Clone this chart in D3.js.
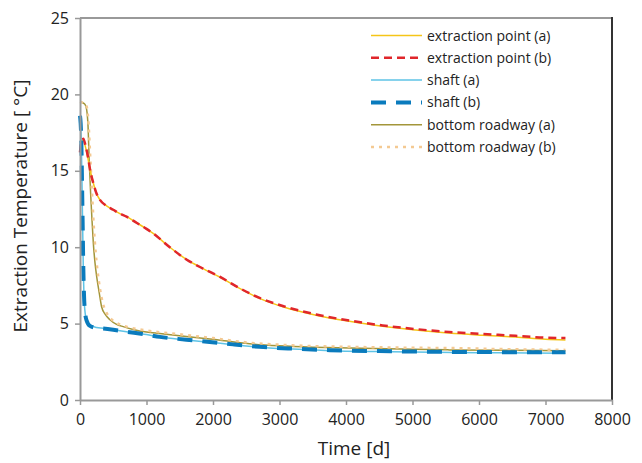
<!DOCTYPE html>
<html>
<head>
<meta charset="utf-8">
<script src="https://cdn.jsdelivr.net/npm/d3@7"></script>
<style>
  body { margin: 0; background: #fff; }
  svg text { font-family: "Open Sans", sans-serif; fill: #222; }
</style>
</head>
<body>
<div id="chart"></div>
<script>
// Data: [time in days, temperature in °C]
var extractionA = [[0,16.3],[20,16.8],[50,17.0],[80,16.6],[120,15.8],[150,15.1],[200,14.2],[250,13.5],[300,13.1],[400,12.7],[500,12.45],[600,12.2],[700,12.0],[850,11.6],[1000,11.2],[1100,10.9],[1350,10.0],[1600,9.2],[1850,8.6],[2100,8.05],[2400,7.3],[2700,6.65],[3050,6.1],[3550,5.55],[4050,5.15],[4550,4.82],[5050,4.58],[5550,4.38],[6050,4.24],[6550,4.12],[7000,3.98],[7300,3.93]];
var extractionB = [[0,16.2],[20,16.9],[50,17.1],[80,16.7],[120,15.9],[150,15.1],[200,14.2],[250,13.5],[300,13.1],[400,12.7],[500,12.45],[600,12.2],[700,12.0],[850,11.6],[1000,11.2],[1100,10.9],[1350,10.0],[1600,9.2],[1850,8.6],[2100,8.07],[2400,7.32],[2700,6.68],[3050,6.15],[3550,5.6],[4050,5.2],[4550,4.88],[5050,4.64],[5550,4.45],[6050,4.32],[6550,4.2],[7000,4.08],[7300,4.05]];
var shaftA = [[0,18.5],[10,18.0],[20,16.8],[30,14.2],[40,11.3],[50,8.5],[60,6.8],[80,5.6],[100,5.2],[150,4.9],[250,4.75],[350,4.7],[500,4.6],[700,4.47],[1000,4.28],[1200,4.12],[1600,3.93],[1950,3.78],[2300,3.62],[2700,3.46],[3200,3.33],[3760,3.23],[4500,3.17],[5000,3.14],[6000,3.1],[7300,3.06]];
var shaftB = [[0,18.6],[10,18.1],[20,16.9],[30,14.4],[40,11.5],[50,8.6],[60,6.9],[80,5.6],[100,5.2],[150,4.85],[250,4.72],[350,4.68],[500,4.6],[700,4.47],[1000,4.28],[1200,4.13],[1600,3.95],[1950,3.8],[2300,3.64],[2700,3.48],[3200,3.36],[3760,3.26],[4500,3.2],[5000,3.17],[6000,3.14],[7300,3.12]];
var roadwayA = [[0,19.5],[40,19.45],[75,19.35],[100,19.0],[120,18.0],[140,15.5],[160,13.5],[180,11.8],[200,10.3],[225,9.0],[250,8.1],[290,7.0],[325,6.1],[380,5.6],[450,5.25],[550,4.95],[650,4.8],[800,4.62],[1000,4.45],[1200,4.35],[1600,4.15],[1950,4.0],[2550,3.68],[3000,3.55],[3500,3.46],[4050,3.4],[5000,3.32],[5550,3.28],[6500,3.25],[7300,3.22]];
var roadwayB = [[0,19.5],[80,19.4],[110,19.0],[130,18.0],[150,16.3],[170,14.5],[190,12.8],[210,11.2],[235,9.7],[260,8.6],[300,7.3],[340,6.4],[400,5.7],[470,5.3],[550,5.05],[700,4.8],[1000,4.55],[1500,4.3],[2000,4.05],[2550,3.75],[3000,3.62],[3500,3.53],[4050,3.48],[5000,3.42],[5550,3.4],[6500,3.32],[7300,3.28]];

var xTicks = [0, 1000, 2000, 3000, 4000, 5000, 6000, 7000, 8000];
var yTicks = [0, 5, 10, 15, 20, 25];

var seriesNames = ["extraction point (a)", "extraction point (b)", "shaft (a)", "shaft (b)", "bottom roadway (a)", "bottom roadway (b)"];
var seriesData = [extractionA, extractionB, shaftA, shaftB, roadwayA, roadwayB];
var seriesStyle = [
  {color: "#f5c518", width: 1.5, dash: null},
  {color: "#e0262b", width: 2.5, dash: "8,5"},
  {color: "#5ec3e6", width: 1.5, dash: null},
  {color: "#0a7bbd", width: 4, dash: "15,10"},
  {color: "#a3963a", width: 1.5, dash: null},
  {color: "#f4c992", width: 2.5, dash: "3,5"}
];

var width = 642, height = 463;
var plotLeft = 80, plotRight = 612, plotTop = 18, plotBottom = 400;

var svg = d3.select("#chart")
            .append("svg")
            .attr("width", width)
            .attr("height", height);

var xScale = d3.scaleLinear()
               .domain([0, 8000])
               .range([plotLeft, plotRight]);

var yScale = d3.scaleLinear()
                .domain([0, 25])
                .range([plotBottom, plotTop]);

var xAxis = d3.axisBottom(xScale)
              .tickValues(xTicks)
              .tickFormat(d3.format("d"))
              .tickSizeInner(5)
              .tickSizeOuter(0)
              .tickPadding(9);

var yAxis = d3.axisLeft(yScale)
              .tickValues(yTicks)
              .tickFormat(d3.format("d"))
              .tickSizeInner(5)
              .tickSizeOuter(0)
              .tickPadding(6);

// frame: gray top, dark right
svg.append("line")
   .attr("x1", plotLeft).attr("x2", plotRight)
   .attr("y1", plotTop).attr("y2", plotTop)
   .attr("stroke", "#999").attr("stroke-width", 2);
svg.append("line")
   .attr("x1", plotRight).attr("x2", plotRight)
   .attr("y1", plotTop - 1).attr("y2", plotBottom)
   .attr("stroke", "#333").attr("stroke-width", 2);

// Draw the lines
var line = d3.line()
             .curve(d3.curveMonotoneX)
             .x(function(d) { return xScale(d[0]); })
             .y(function(d) { return yScale(d[1]); });

var order = [4, 5, 0, 1, 2, 3];
order.forEach(function(i) {
  svg.append("path")
     .datum(seriesData[i])
     .attr("fill", "none")
     .attr("stroke", seriesStyle[i].color)
     .attr("stroke-width", seriesStyle[i].width)
     .attr("stroke-dasharray", seriesStyle[i].dash)
     .attr("d", line);
});

// Axes
var gx = svg.append("g")
   .attr("transform", "translate(0," + plotBottom + ")")
   .call(xAxis);
var gy = svg.append("g")
   .attr("transform", "translate(" + plotLeft + ",0)")
   .call(yAxis);

[gx, gy].forEach(function(g) {
  g.select(".domain").attr("stroke", "#999").attr("stroke-width", 2);
  g.selectAll(".tick line").attr("stroke", "#999").attr("stroke-width", 1.5);
  g.selectAll(".tick text").attr("font-size", 16).attr("fill", "#222");
});

// Axis titles
svg.append("text")
   .attr("x", 354)
   .attr("y", 455)
   .attr("text-anchor", "middle")
   .attr("font-size", 19)
   .text("Time [d]");

svg.append("text")
   .attr("transform", "translate(27," + 206 + ") rotate(-90)")
   .attr("text-anchor", "middle")
   .attr("font-size", 19)
   .text("Extraction Temperature [ °C]");

// Legend
var legend = svg.append("g");
seriesNames.forEach(function(name, i) {
  var y = 35.5 + i * 22.3;
  legend.append("line")
        .attr("x1", 371).attr("x2", 422)
        .attr("y1", y).attr("y2", y)
        .attr("stroke", seriesStyle[i].color)
        .attr("stroke-width", seriesStyle[i].width)
        .attr("stroke-dasharray", seriesStyle[i].dash);
  legend.append("text")
        .attr("x", 427)
        .attr("y", y + 5)
        .attr("font-size", 14)
        .text(name);
});
</script>
</body>
</html>
